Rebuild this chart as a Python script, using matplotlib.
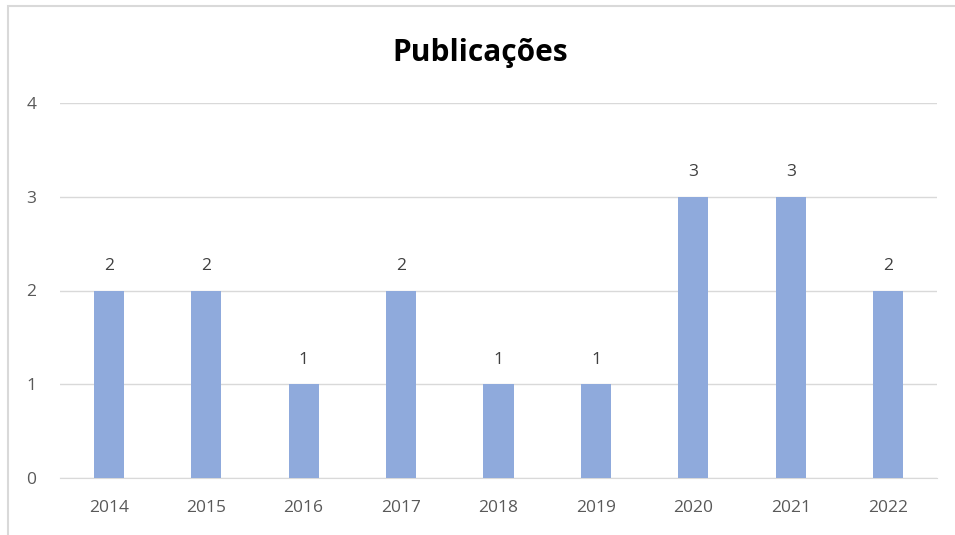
import matplotlib
matplotlib.use("Agg")
import matplotlib.pyplot as plt
from matplotlib.patches import Rectangle

years = ["2014", "2015", "2016", "2017", "2018", "2019", "2020", "2021", "2022"]
counts = [2, 2, 1, 2, 1, 1, 3, 3, 2]
title = "Publicações"

W, H = 955, 535
fig = plt.figure(figsize=(W / 100, H / 100), dpi=100)
plt.rcParams['font.family'] = ['Open Sans', 'DejaVu Sans']

# outer chart border (left & top visible)
fig.patches.append(Rectangle((8 / W, -0.1), 1.2, (H - 6) / H + 0.1, transform=fig.transFigure,
                             fill=False, edgecolor="#d9d9d9", linewidth=1.5))

ax = fig.add_axes([60 / W, (H - 478) / H, (937 - 60) / W, (478 - 103) / H])
x = range(len(years))
ax.bar(x, counts, width=0.31, color="#8faadc", zorder=3)
ax.set_xlim(-0.5, len(years) - 0.5)
ax.set_ylim(0, 4)
ax.set_yticks([0, 1, 2, 3, 4])
ax.set_xticks(list(x))
ax.set_xticklabels(years)
ax.grid(axis="y", color="#d9d9d9", linewidth=1, zorder=0)
for s in ["top", "right", "left"]:
    ax.spines[s].set_visible(False)
ax.spines["bottom"].set_color("#d9d9d9")
ax.tick_params(axis="both", length=0, colors="#595959", labelsize=12.5)
ax.tick_params(axis="y", pad=17)
ax.tick_params(axis="x", pad=16)

for xi, v in zip(x, counts):
    ax.annotate(str(v), (xi, v), xytext=(0, 12), textcoords="offset points",
                ha="center", va="bottom", fontsize=12.5, color="#404040")

fig.text(480 / W, (H - 53) / H, title, ha="center", va="center",
         fontsize=21.5, fontweight="bold", color="#000000")

fig.savefig("out.png", dpi=100, facecolor="white")
